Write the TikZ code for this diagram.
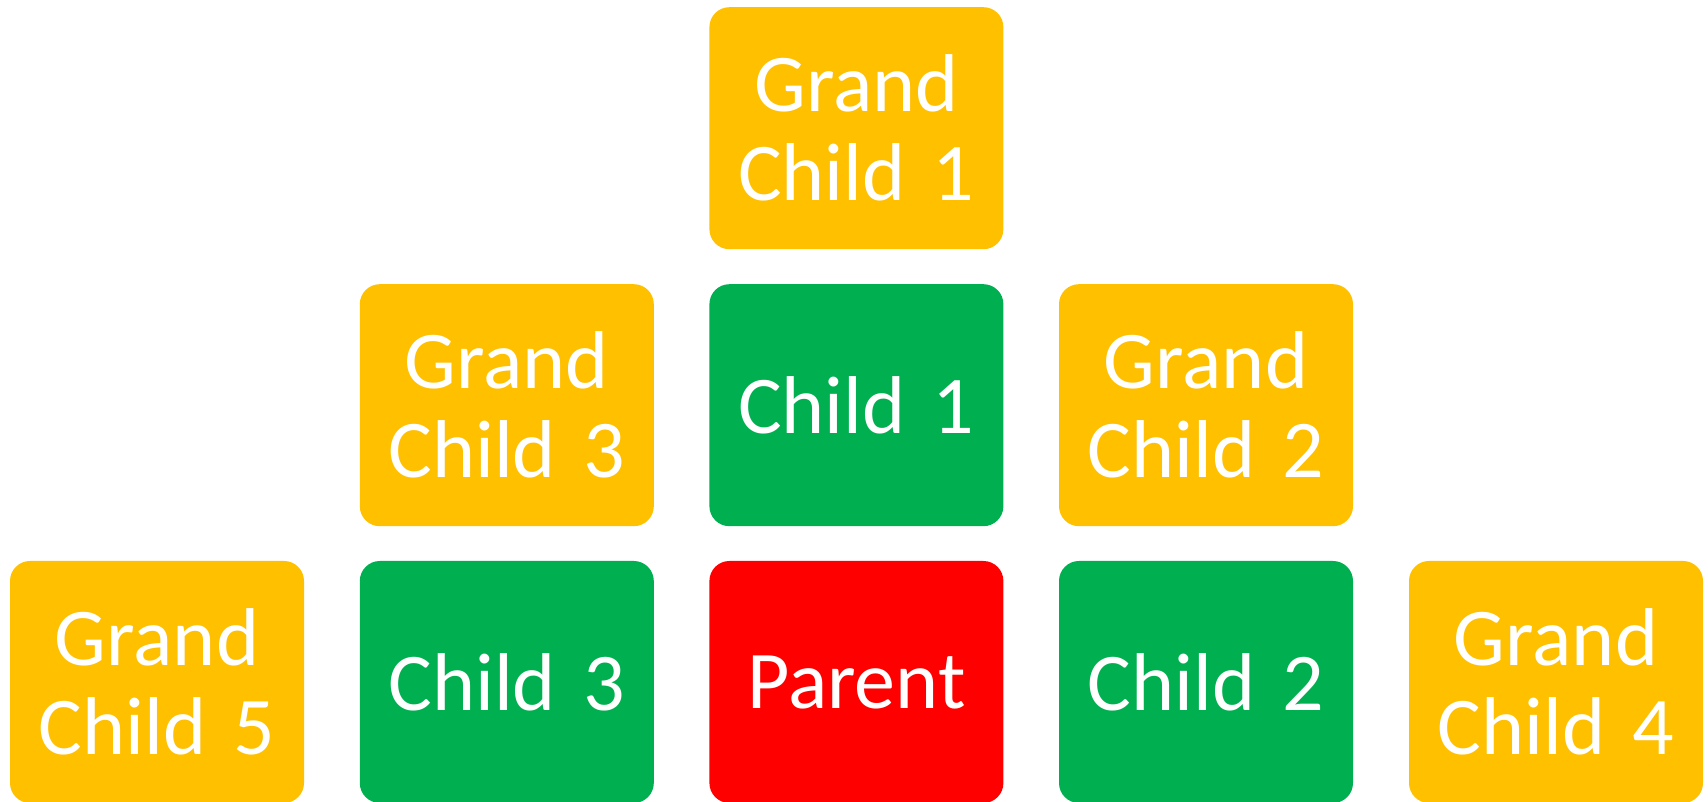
\documentclass[tikz,border=0pt]{standalone}
\usepackage{fontspec}
\setmainfont{Carlito}
\usepackage{tikz}
\usetikzlibrary{positioning}
\definecolor{jaune}{HTML}{FFC000}
\definecolor{vert}{HTML}{00B050}
\definecolor{rouge}{HTML}{FF0000}
\tikzset{tile/.style={rounded corners=10pt,align=center,text width=140pt,minimum width=147pt,minimum height=121pt,inner sep=0pt,fill=jaune,text=white,font=\fontsize{41}{44.5}\selectfont}}

\begin{document}
\begin{tikzpicture}[x=1pt,y=1pt]
\useasboundingbox (0,0) rectangle (854,401);
\node[tile] (gc1) at (428.2,336.9) {Grand\\Child 1};
\node[tile] (gc3) at (253.4,198.4) {Grand\\Child 3};
\node[tile,fill=vert] (child1) at (428.2,198.4) {Child 1};
\node[tile] (gc2) at (603,198.4) {Grand\\Child 2};
\node[tile] (gc5) at (78.5,60) {Grand\\Child 5};
\node[tile,fill=vert] (child3) at (253.4,60) {Child 3};
\node[tile,fill=rouge] (parent) at (428.2,60) {Parent};
\node[tile,fill=vert] (child2) at (603,60) {Child 2};
\node[tile] (gc4) at (778,60) {Grand\\Child 4};
\end{tikzpicture}
\end{document}
